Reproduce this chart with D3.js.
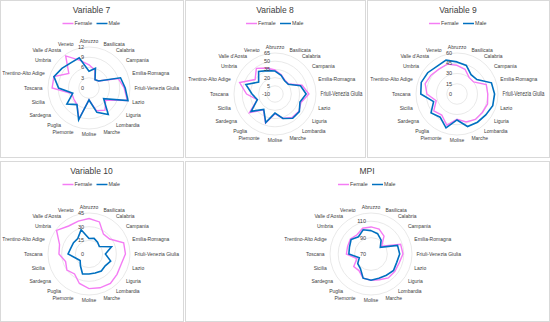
<!DOCTYPE html>
<html>
<head>
<meta charset="utf-8">
<script src="https://cdn.jsdelivr.net/npm/d3@7"></script>
<style>
body { margin: 0; background: #fff; }
text { font-family: "Liberation Sans", Arial, sans-serif; fill: #404040; }
</style>
</head>
<body>
<script>
// categories, clockwise from the top
var regions = ["Abruzzo", "Basilicata", "Calabria", "Campania", "Emilia-Romagna",
  "Friuli-Venezia Giulia", "Lazio", "Liguria", "Lombardia", "Marche", "Molise",
  "Piemonte", "Puglia", "Sardegna", "Sicilia", "Toscana", "Trentino-Alto Adige",
  "Umbria", "Valle d'Aosta", "Veneto"];

var var7Female = [6.8, 5.5, 3, 3.5, 9, 10.3, 11.8, 6, 8, 7, 3.5, 9.5, 6, 5.5, 5.3, 10.8, 10.8, 7.3, 11.6, 8.5];
var var7Male   = [4.9, 6.1, 3, 3.5, 9.7, 10.6, 12, 5.3, 9.6, 7.5, 3.5, 9.8, 6, 8, 5, 8.9, 10.8, 9.8, 9.1, 9.3];
var var7Ticks  = [0, 3, 6, 9, 12];

var var8Female = [34, 27, 21, 21, 42, 52, 40, 44, 43, 37, 26, 46, 26, 48, 24, 42, 58, 35, 48, 40];
var var8Male   = [32, 26, 20, 20, 39, 47, 38, 45, 45, 37, 25, 45, 25, 44, 24, 32, 46, 27, 41, 35];
var var8Ticks  = [-10, 5, 20, 35, 50, 65];

var var9Female = [42, 38, 30, 30, 45, 45, 47, 46, 46, 43, 37, 48, 38, 42, 32, 44, 49, 47, 45, 46];
var var9Male   = [47, 44, 35, 36, 53, 55, 55, 52, 51, 50, 38, 52, 42, 47, 36, 53, 55, 53, 50, 52];
var var9Ticks  = [0, 15, 30, 45, 60];

var var10Female = [39, 37, 27, 28, 40, 40, 37, 38, 40, 39, 38, 34, 27, 30, 27, 33, 34, 44, 38, 38];
var var10Male   = [17, 18, 16, 14, 26, 18, 25, 22, 23, 22, 22, 23, 16, 12, 15, 23, 21, 21, 21, 28];
var var10Ticks  = [0, 15, 30, 45];

var mpiFemale = [103, 102, 97, 86, 108, 109, 106, 106, 106, 103, 102, 101, 95, 96, 88, 100, 100, 101, 99, 103];
var mpiMale   = [98.5, 96, 91, 84, 104, 105, 103, 104, 102, 101, 102, 101, 92, 90, 85, 97, 97.6, 100, 96, 101];
var mpiTicks  = [70, 90, 110];

var pink = "#f47cf4", blue = "#0070c0";
var R = 41;

var svg = d3.select("body").append("svg")
    .attr("width", 550)
    .attr("height", 322);

function radar(p) {
  var g = svg.append("g");

  g.append("rect")
    .attr("x", p.x + 0.5).attr("y", p.y + 0.5)
    .attr("width", p.w).attr("height", p.h)
    .attr("fill", "#fff").attr("stroke", "#d9d9d9");

  var mid = p.x + p.w / 2;
  g.append("text")
    .attr("x", mid).attr("y", p.y + 13)
    .attr("text-anchor", "middle")
    .style("font-size", "8.5px")
    .text(p.title);

  // legend
  var leg = g.append("g").attr("transform", "translate(" + (mid - 29) + "," + (p.y + 23.5) + ")");
  [["Female", pink, 0], ["Male", blue, 34]].forEach(function(s) {
    leg.append("line").attr("x1", s[2]).attr("x2", s[2] + 11)
      .attr("stroke", s[1]).attr("stroke-width", 1.5);
    leg.append("text").attr("x", s[2] + 12).attr("dy", "0.35em")
      .style("font-size", "5.3px").text(s[0]);
  });

  var r = d3.scaleLinear()
    .domain([p.ticks[0], p.max])
    .range([0, R]);

  var plot = g.append("g").attr("transform", "translate(" + p.cx + "," + p.cy + ")");

  var rings = p.ticks.slice(1);
  if (rings[rings.length - 1] !== p.max) rings.push(p.max);
  plot.selectAll(".ring")
    .data(rings)
    .enter().append("circle")
    .attr("r", function(d) { return r(d); })
    .attr("fill", "none")
    .attr("stroke", "#e3e3e3")
    .attr("stroke-width", 0.8);

  var step = 2 * Math.PI / regions.length;
  var line = d3.lineRadial()
    .angle(function(d, i) { return i * step; })
    .radius(function(d) { return r(d); })
    .curve(d3.curveLinearClosed);

  plot.append("path").datum(p.female)
    .attr("d", line).attr("fill", "none")
    .attr("stroke", pink).attr("stroke-width", 1.4);
  plot.append("path").datum(p.male)
    .attr("d", line).attr("fill", "none")
    .attr("stroke", blue).attr("stroke-width", 1.6);

  plot.selectAll(".tick")
    .data(p.ticks)
    .enter().append("text")
    .attr("x", -5)
    .attr("y", function(d) { return -r(d); })
    .attr("dy", "0.35em")
    .attr("text-anchor", "end")
    .style("font-size", "5.5px")
    .text(function(d) { return d; });

  var cats = plot.selectAll(".cat")
    .data(regions)
    .enter().append("text")
    .attr("x", function(d, i) {
      var s = Math.sin(i * step);
      return (R + 4) * s + (s > 0.05 ? 0.5 : (s < -0.05 ? -1.5 : 0));
    })
    .attr("y", function(d, i) { return -(R + 4) * Math.cos(i * step) - 1.5 * Math.cos(i * step); })
    .attr("dy", "0.35em")
    .attr("text-anchor", function(d, i) {
      var s = Math.sin(i * step);
      return s > 0.05 ? "start" : (s < -0.05 ? "end" : "middle");
    })
    .style("font-size", function(d) { return d === p.big ? "6.3px" : "5px"; })
    .text(function(d) { return d; });

  // the larger label is drawn condensed, as in the source
  cats.filter(function(d) { return d === p.big; })
    .attr("textLength", 42)
    .attr("lengthAdjust", "spacingAndGlyphs");
}

radar({x: 0, y: 0, w: 183, h: 157, cx: 89, cy: 88, title: "Variable 7",
  female: var7Female, male: var7Male, ticks: var7Ticks, max: 12});
radar({x: 185, y: 0, w: 180, h: 157, cx: 275, cy: 94, title: "Variable 8",
  female: var8Female, male: var8Male, ticks: var8Ticks, max: 65, big: "Friuli-Venezia Giulia"});
radar({x: 367, y: 0, w: 182, h: 157, cx: 457, cy: 94, title: "Variable 9",
  female: var9Female, male: var9Male, ticks: var9Ticks, max: 60, big: "Friuli-Venezia Giulia"});
radar({x: 0, y: 161, w: 183, h: 160, cx: 89, cy: 254, title: "Variable 10",
  female: var10Female, male: var10Male, ticks: var10Ticks, max: 45});
radar({x: 185, y: 161, w: 364, h: 160, cx: 371, cy: 254, title: "MPI",
  female: mpiFemale, male: mpiMale, ticks: mpiTicks, max: 120});
</script>
</body>
</html>
